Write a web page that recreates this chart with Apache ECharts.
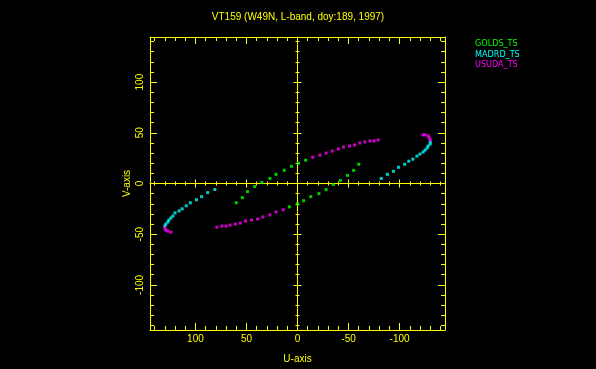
<!DOCTYPE html>
<html>
<head>
<meta charset="utf-8">
<script src="https://cdn.jsdelivr.net/npm/echarts@6/dist/echarts.min.js"></script>
<style>html,body{margin:0;padding:0;background:#000;}#c{width:596px;height:369px;}</style>
</head>
<body>
<div id="c"></div>
<script>
// ---- data (U, V) ----
const goldsTS = [
  [-8,23],[-1,20],[6,17],[13,13],[21,9],[27,5],[35,1],[42,-3],[49,-8],[54,-14],[60,-19],
  [8,-23],[0,-20],[-6,-17],[-13,-13],[-21,-10],[-28,-6],[-35,-1],[-42,3],[-49,8],[-55,13],[-60,19]
];
const madrdTS = [
  [-82,5],[-88,9],[-94,12],[-99,16],[-105,19],[-109,22],[-113,24],[-117,27],[-120,29],[-123,31],
  [-125,33],[-127,35],[-128,37],[-130,39],[-130,41],
  [81,-6],[88,-9],[94,-13],[99,-16],[105,-19],[109,-22],[113,-25],[116,-27],[120,-29],[122,-32],
  [124,-34],[126,-36],[127,-38],[129,-40],[130,-42]
];
const usudaTS = [
  [-15,26],[-22,28],[-28,30],[-34,32],[-40,34],[-45,36],[-51,37],[-56,38],[-61,40],[-66,41],
  [-71,42],[-75,42],[-79,43],[-123,48],[-125,48],[-128,47],[-129,45],[-130,43],
  [79,-43],[74,-42],[70,-42],[66,-41],[61,-40],[56,-39],[51,-37],[45,-36],[39,-35],[34,-33],
  [27,-31],[21,-28],[14,-26],[130,-44],[129,-46],[127,-47],[124,-48]
];
const seriesNames = ['GOLDS_TS','MADRD_TS','USUDA_TS'];
const majorTicks = [-100,-50,0,50,100];
const minorTicks = [-140,-130,-120,-110,-90,-80,-70,-60,-40,-30,-20,-10,10,20,30,40,60,70,80,90,110,120,130,140];
const tickLabels = [-100,-50,0,50,100];
const titleText = 'VT159 (W49N, L-band, doy:189, 1997)';
const xName = 'U-axis', yName = 'V-axis';

const Y = '#ffff00';
const colors = ['#00ff00','#00ffff','#ff00ff'];
const R = 144.5;
const FONT = 'Liberation Sans';

function axisBase(extra){
  return Object.assign({
    type:'value', min:-R, max:R, gridIndex:0,
    splitLine:{show:false},
    axisLine:{show:false, onZero:false, lineStyle:{color:Y,width:1}},
    axisTick:{show:false},
    axisLabel:{show:false}
  }, extra);
}
function tickAxis(pos, vals, len, inside, showLine, onZero){
  return {
    position:pos,
    axisLine:{show:showLine, onZero:!!onZero, onZeroAxisIndex:0, lineStyle:{color:Y,width:1}},
    axisTick:{show:true, inside:inside, length:len, customValues:vals, lineStyle:{color:Y,width:1}}
  };
}

const xAxes = [
  axisBase(Object.assign(tickAxis('bottom', majorTicks, 7, true, true, false), {
    inverse:true,
    axisLabel:{show:true, customValues:tickLabels, color:Y, fontFamily:FONT, fontSize:10, margin:4},
    name:xName, nameLocation:'middle', nameGap:24,
    nameTextStyle:{color:Y, fontFamily:FONT, fontSize:10}
  })),
  axisBase(Object.assign(tickAxis('bottom', minorTicks, 4, true, false, false), {inverse:true})),
  axisBase(Object.assign(tickAxis('top', majorTicks, 7, true, true, false), {inverse:true})),
  axisBase(Object.assign(tickAxis('top', minorTicks, 4, true, false, false), {inverse:true})),
  axisBase(Object.assign(tickAxis('bottom', majorTicks, 4, true, true, true), {inverse:true})),
  axisBase(Object.assign(tickAxis('bottom', majorTicks, 4, false, false, true), {inverse:true})),
  axisBase(Object.assign(tickAxis('bottom', minorTicks, 2, true, false, true), {inverse:true})),
  axisBase(Object.assign(tickAxis('bottom', minorTicks, 2, false, false, true), {inverse:true}))
];
const yAxes = [
  axisBase(Object.assign(tickAxis('left', majorTicks, 7, true, true, false), {
    axisLabel:{show:true, customValues:tickLabels, color:Y, fontFamily:FONT, fontSize:10, margin:5, rotate:90},
    name:yName, nameLocation:'middle', nameGap:18, nameRotate:90,
    nameTextStyle:{color:Y, fontFamily:FONT, fontSize:10}
  })),
  axisBase(tickAxis('left', minorTicks, 4, true, false, false)),
  axisBase(tickAxis('right', majorTicks, 7, true, true, false)),
  axisBase(tickAxis('right', minorTicks, 4, true, false, false)),
  axisBase(tickAxis('left', majorTicks, 4, true, true, true)),
  axisBase(tickAxis('left', majorTicks, 4, false, false, true)),
  axisBase(tickAxis('left', minorTicks, 2, true, false, true)),
  axisBase(tickAxis('left', minorTicks, 2, false, false, true))
];

const dataSets = [goldsTS, madrdTS, usudaTS];
const chart = echarts.init(document.getElementById('c'), null, {renderer:'canvas'});
chart.setOption({
  backgroundColor:'#000',
  animation:false,
  title:{text:titleText, left:'center', top:7,
    textStyle:{color:Y, fontFamily:FONT, fontSize:10, fontWeight:'normal'}},
  legend:{
    orient:'vertical', left:465, top:34, itemWidth:0, itemHeight:10, itemGap:0.5,
    selectedMode:false,
    data:seriesNames.map((n,i)=>({name:n, icon:'rect', itemStyle:{opacity:0},
      textStyle:{color:colors[i], fontFamily:"'DejaVu Sans Condensed', 'Liberation Sans', sans-serif", fontSize:9}}))
  },
  grid:{left:150, top:37, width:295, height:294, containLabel:false},
  xAxis:xAxes,
  yAxis:yAxes,
  series:seriesNames.map((n,i)=>({
    name:n, type:'scatter', xAxisIndex:0, yAxisIndex:0,
    symbol:'rect', symbolSize:3,
    itemStyle:{color:colors[i]},
    data:dataSets[i]
  }))
});
</script>
</body>
</html>
